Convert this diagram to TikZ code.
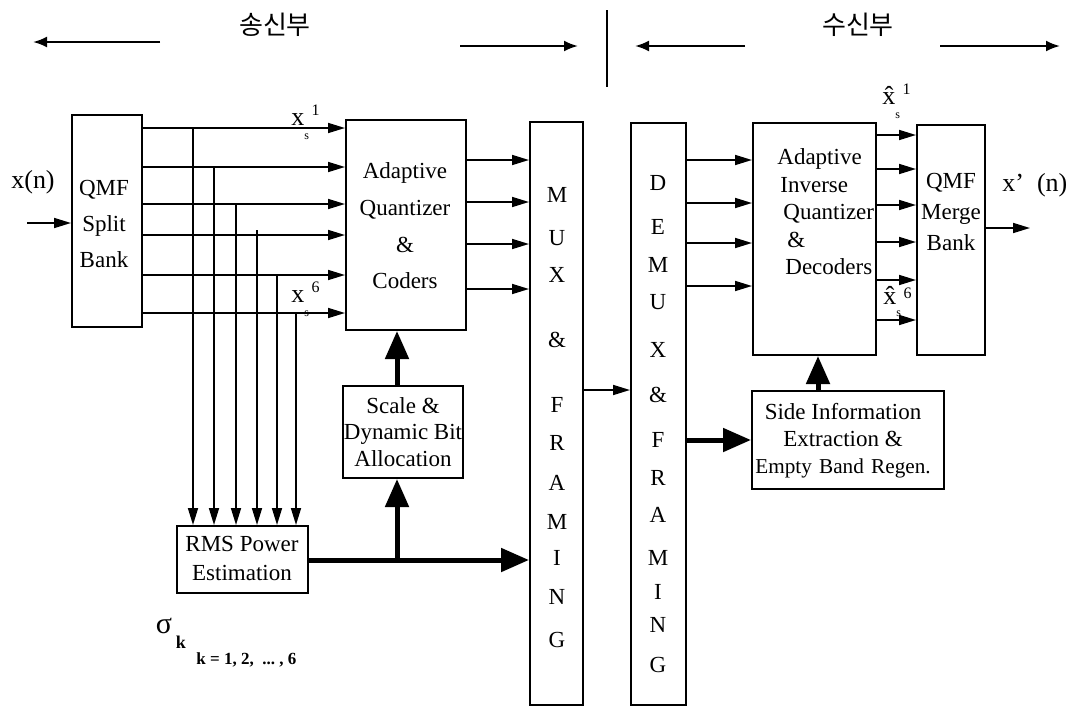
\documentclass[tikz,border=0pt]{standalone}
\usepackage{fontspec}
\setmainfont{Liberation Serif}
\newfontfamily\kr{Noto Sans CJK KR}
\usetikzlibrary{arrows.meta,fit}
\begin{document}
\begin{tikzpicture}[x=0.5pt,y=-0.5pt,
  box/.style={draw,line width=1pt,inner sep=0pt},
  txt/.style={font=\fontsize{11.5}{#1}\selectfont,align=center,inner sep=0pt},
  txt/.default=13.8,
  lbl/.style={font=\fontsize{13}{14}\selectfont,inner sep=0pt},
  hdr/.style={font=\kr\fontsize{13}{15}\selectfont,inner sep=0pt},
  arr/.style={-{Triangle[length=8.5pt,width=5pt]},line width=0.85pt},
  tarr/.style={-{Triangle[length=14pt,width=11.5pt]},line width=2.5pt},
  harr/.style={-{Latex[length=7pt,width=5.5pt]},line width=1.1pt}]
\useasboundingbox (0,0) rectangle (1078,707);
% header
\node[hdr] (tx) at (275,25) {송신부};
\node[hdr] (rx) at (858,25) {수신부};
\coordinate (h1a) at (160,42); \coordinate (h1b) at (33,42);
\coordinate (h2a) at (460,46); \coordinate (h2b) at (578,46);
\coordinate (h3a) at (745,46); \coordinate (h3b) at (635,46);
\coordinate (h4a) at (940,46); \coordinate (h4b) at (1060,46);
\coordinate (d1) at (607,10); \coordinate (d2) at (607,87);
\draw[harr] (h1a) -- (h1b);
\draw[harr] (h2a) -- (h2b);
\draw[harr] (h3a) -- (h3b);
\draw[harr] (h4a) -- (h4b);
\draw[line width=0.9pt] (d1) -- (d2);
% boxes
\node[box,fit={(72,115) (142,327)}] (qmf) {};
\node[box,fit={(346,120) (466,330)}] (aq) {};
\node[box,fit={(530,122) (583,705)}] (mux) {};
\node[box,fit={(631,123) (686,705)}] (dmx) {};
\node[box,fit={(753,123) (876,355)}] (aiq) {};
\node[box,fit={(917,125) (985,355)}] (mrg) {};
\node[box,fit={(752,391) (944,489)}] (side) {};
\node[box,fit={(343,386) (463,478)}] (sc) {};
\node[box,fit={(177,526) (308,593)}] (rms) {};
% box texts
\node[txt=18] (qmft) at (104,224) {QMF\\Split\\Bank};
\node[txt=18.3] (aqt) at (405,226) {Adaptive\\Quantizer\\\&\\Coders};
\node[txt=13.75,anchor=west,align=left] (aiqt) at (777,212)
  {Adaptive\\\hspace{1.5pt}Inverse\\\hspace{3pt}Quantizer\\\hspace{5pt}\&\\\hspace{4pt}Decoders};
\node[txt=15.5] (mrgt) at (951,212) {QMF\\Merge\\Bank};
\node[txt=13.5] (sidet) at (843,441) {Side Information\\Extraction \&\\{\fontsize{10.6}{13.5}\selectfont Empty\hspace{1pt} Band\hspace{1pt} Regen.}};
\node[txt=13.25] (sct) at (403,432) {Scale \&\\Dynamic Bit\\Allocation};
\node[txt=14.5] (rmst) at (242,558) {RMS Power\\Estimation};
\foreach \l/\y in {M/195,U/238,X/275,\&/340,F/405,R/443,A/483,M/522,I/558,N/597,G/640}
  \node[txt] (mux-\y) at (557,\y) {\l};
\foreach \l/\y in {D/183,E/227,M/265,U/302,X/350,\&/395,F/440,R/478,A/515,M/558,I/592,N/625,G/665}
  \node[txt] (dmx-\y) at (658,\y) {\l};
% labels
\node[lbl] (xn) at (33,182) {x(n)};
\node[lbl,anchor=west] (xpn) at (1002,185) {x'\ \ (n)};
\node[lbl,anchor=west] (xs1) at (291,122) {x\raisebox{-7pt}{\fontsize{6}{6}\selectfont s}\raisebox{5pt}{\fontsize{8}{8}\selectfont\,1}};
\node[lbl,anchor=west] (xs6) at (291,299) {x\raisebox{-7pt}{\fontsize{6}{6}\selectfont s}\raisebox{5pt}{\fontsize{8}{8}\selectfont\,6}};
\node[lbl,anchor=west] (xh1) at (882,101) {\^x\raisebox{-7pt}{\fontsize{6}{6}\selectfont s}\raisebox{5pt}{\fontsize{8}{8}\selectfont\,1}};
\node[lbl,anchor=west] (xh6) at (883,302) {\^x\raisebox{-6pt}{\fontsize{6}{6}\selectfont s}\raisebox{3pt}{\fontsize{8}{8}\selectfont\,6}};
\node[lbl,font=\fontsize{15}{16}\selectfont] (sig) at (164,626) {σ};
\node[lbl,font=\bfseries\fontsize{9}{10}\selectfont] (sigk) at (181,642) {k};
\node[lbl,font=\bfseries\fontsize{8.5}{10}\selectfont,anchor=west] (krng) at (196,660) {k\ =\ 1,\ 2,\ \ ...\ ,\ 6};
% split -> quantizer
\foreach \y in {128,167,204,235,275,313}
  \draw[arr] (qmf.east |- 0,\y) -- (aq.west |- 0,\y);
% taps to RMS
\coordinate (t1) at (193,128);
\coordinate (t2) at (214,167);
\coordinate (t3) at (236,204);
\coordinate (t4) at (257,230);
\coordinate (t5) at (277,275);
\coordinate (t6) at (296,313);
\foreach \t in {t1,t2,t3,t4,t5,t6}
  \draw[arr] (\t) -- (\t |- rms.north);
% RMS -> MUX and bit allocation
\coordinate (br) at (397,560);
\draw[tarr] (rms.east |- br) -- (mux.west |- br);
\draw[tarr] (br) -- (br |- sc.south);
\draw[tarr] (br |- sc.north) -- (br |- aq.south);
% quantizer -> MUX
\foreach \y in {160,202,244,289}
  \draw[arr] (aq.east |- 0,\y) -- (mux.west |- 0,\y);
% MUX -> DEMUX
\draw[arr] (mux.east |- 0,390) -- (dmx.west |- 0,390);
% DEMUX -> side info
\draw[tarr] (dmx.east |- 0,440) -- (side.west |- 0,440);
\coordinate (sx) at (818,391);
\draw[tarr] (sx |- side.north) -- (sx |- aiq.south);
% DEMUX -> inverse quantizer
\foreach \y in {160,203,243,286}
  \draw[arr] (dmx.east |- 0,\y) -- (aiq.west |- 0,\y);
% inverse quantizer -> merge
\foreach \y in {135,169,205,242,280,320}
  \draw[arr] (aiq.east |- 0,\y) -- (mrg.west |- 0,\y);
% input / output
\coordinate (in) at (27,223);
\coordinate (out) at (1030,228);
\draw[arr] (in) -- (qmf.west |- in);
\draw[arr] (mrg.east |- out) -- (out);
\end{tikzpicture}
\end{document}
